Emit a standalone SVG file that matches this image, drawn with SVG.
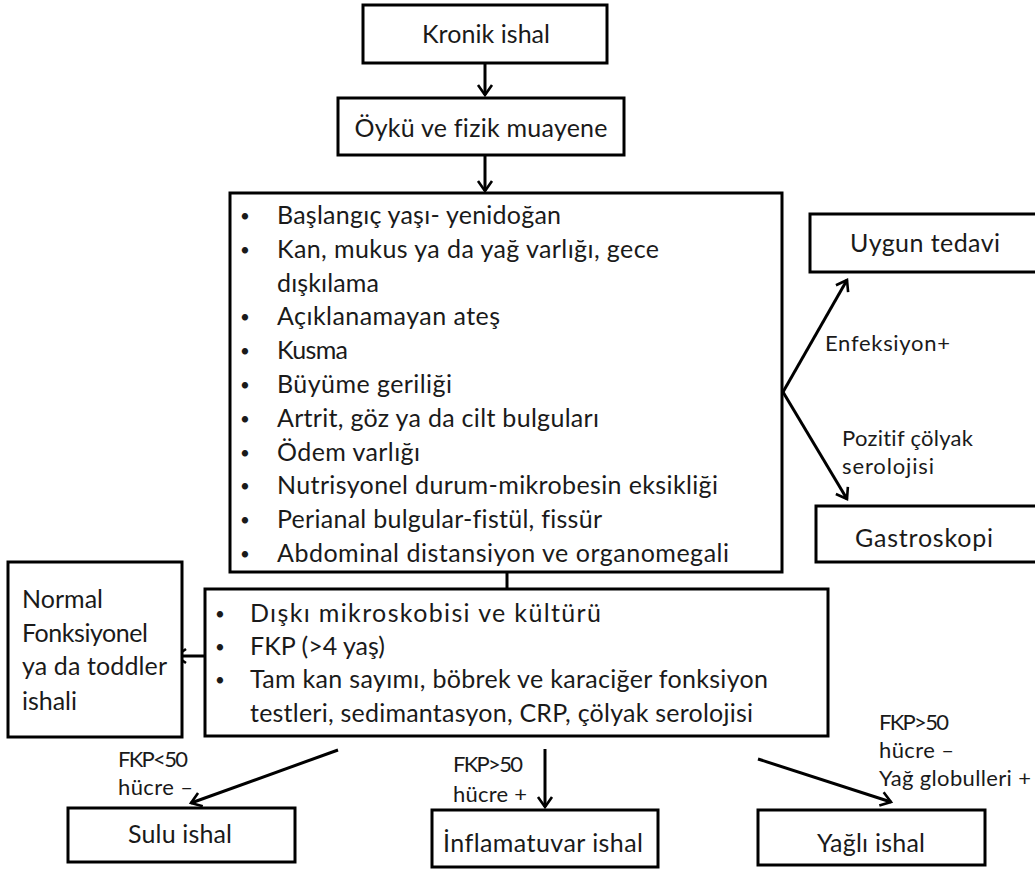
<svg xmlns="http://www.w3.org/2000/svg" width="1035" height="871" viewBox="0 0 1035 871">
<style>
  .box { fill: #ffffff; stroke: #000000; stroke-width: 3; }
  .t { font-family: Lato, "Open Sans", "Liberation Sans", sans-serif; font-size: 25px; fill: #1a1a1a; font-variant-ligatures: none; }
  .c { text-anchor: middle; }
  .b { font-family: Lato, "Open Sans", "Liberation Sans", sans-serif; font-size: 17px; fill: #1a1a1a; text-anchor: middle; }
  .lbl { font-family: Lato, "Open Sans", "Liberation Sans", sans-serif; font-size: 22px; fill: #1a1a1a; font-variant-ligatures: none; }
  .conn { stroke: #000000; stroke-width: 3; fill: none; }
</style>
<defs>
  <marker id="arr" viewBox="0 0 12 16" refX="11" refY="8" markerWidth="12" markerHeight="16" markerUnits="userSpaceOnUse" orient="auto" overflow="visible">
    <path d="M1,1 L11,8 L1,15" fill="none" stroke="#000000" stroke-width="2.6"/>
  </marker>
</defs>
<rect width="1035" height="871" fill="#ffffff"/>

<g id="connectors">
  <line class="conn" x1="485" y1="63" x2="485" y2="95" marker-end="url(#arr)"/>
  <line class="conn" x1="485" y1="155" x2="485" y2="191" marker-end="url(#arr)"/>
  <line class="conn" x1="783" y1="392" x2="847" y2="280" marker-end="url(#arr)"/>
  <line class="conn" x1="783" y1="392" x2="847" y2="499" marker-end="url(#arr)"/>
  <line class="conn" x1="507" y1="572" x2="507" y2="589"/>
  <line class="conn" x1="213" y1="656" x2="176" y2="656" marker-end="url(#arr)"/>
  <line class="conn" x1="338" y1="750" x2="191" y2="803" marker-end="url(#arr)"/>
  <line class="conn" x1="545" y1="749" x2="545" y2="807" marker-end="url(#arr)"/>
  <line class="conn" x1="758" y1="759" x2="891" y2="802" marker-end="url(#arr)"/>
  <text class="lbl" x="825" y="351" textLength="125">Enfeksiyon+</text>
  <text class="lbl" x="842" y="446" textLength="131">Pozitif çölyak</text>
  <text class="lbl" x="842" y="474" textLength="92">serolojisi</text>
  <text class="lbl" x="118" y="767" textLength="70">FKP&lt;50</text>
  <text class="lbl" x="118" y="795" textLength="75">hücre –</text>
  <text class="lbl" x="453" y="772" textLength="70">FKP&gt;50</text>
  <text class="lbl" x="453" y="802" textLength="74">hücre +</text>
  <text class="lbl" x="879" y="730" textLength="70">FKP&gt;50</text>
  <text class="lbl" x="879" y="758" textLength="75">hücre –</text>
  <text class="lbl" x="879" y="786" textLength="152">Yağ globulleri +</text>
</g>

<g id="kronik">
  <rect class="box" x="363" y="5" width="244" height="58"/>
  <text class="t c" x="486" y="43" textLength="128">Kronik ishal</text>
</g>

<g id="oyku">
  <rect class="box" x="338" y="98" width="286" height="57"/>
  <text class="t c" x="481" y="137" textLength="253">Öykü ve fizik muayene</text>
</g>

<g id="bulgular">
  <rect class="box" x="230" y="193" width="552" height="379"/>
  <g class="b">
    <text x="245" y="222">•</text>
    <text x="245" y="256">•</text>
    <text x="245" y="323">•</text>
    <text x="245" y="357">•</text>
    <text x="245" y="391">•</text>
    <text x="245" y="425">•</text>
    <text x="245" y="459">•</text>
    <text x="245" y="492">•</text>
    <text x="245" y="526">•</text>
    <text x="245" y="560">•</text>
  </g>
  <text class="t" x="277" y="224" textLength="284">Başlangıç yaşı- yenidoğan</text>
  <text class="t" x="277" y="258" textLength="382">Kan, mukus ya da yağ varlığı, gece</text>
  <text class="t" x="277" y="292" textLength="102">dışkılama</text>
  <text class="t" x="277" y="325" textLength="223">Açıklanamayan ateş</text>
  <text class="t" x="277" y="359" textLength="71">Kusma</text>
  <text class="t" x="277" y="393" textLength="175">Büyüme geriliği</text>
  <text class="t" x="277" y="427" textLength="322">Artrit, göz ya da cilt bulguları</text>
  <text class="t" x="277" y="461" textLength="143">Ödem varlığı</text>
  <text class="t" x="277" y="494" textLength="441">Nutrisyonel  durum-mikrobesin  eksikliği</text>
  <text class="t" x="277" y="528" textLength="325">Perianal bulgular-fistül,  fissür</text>
  <text class="t" x="277" y="562" textLength="452">Abdominal  distansiyon  ve organomegali</text>
</g>

<g id="uygun-tedavi">
  <rect class="box" x="810" y="214" width="235" height="58"/>
  <text class="t c" x="925" y="252" textLength="150">Uygun tedavi</text>
</g>

<g id="gastroskopi">
  <rect class="box" x="816" y="506" width="229" height="56"/>
  <text class="t c" x="924" y="547" textLength="138">Gastroskopi</text>
</g>

<g id="testler">
  <rect class="box" x="205" y="589" width="623" height="147"/>
  <g class="b">
    <text x="220" y="620">•</text>
    <text x="220" y="653">•</text>
    <text x="220" y="686">•</text>
  </g>
  <text class="t" x="250" y="622" textLength="351">Dışkı mikroskobisi  ve kültürü</text>
  <text class="t" x="250" y="655" textLength="135">FKP (&gt;4 yaş)</text>
  <text class="t" x="250" y="688" textLength="518">Tam kan sayımı, böbrek ve karaciğer fonksiyon</text>
  <text class="t" x="250" y="722" textLength="503">testleri, sedimantasyon, CRP, çölyak serolojisi</text>
</g>

<g id="normal">
  <rect class="box" x="8" y="562" width="174" height="175"/>
  <text class="t" x="22" y="608" textLength="81">Normal</text>
  <text class="t" x="22" y="642" textLength="126">Fonksiyonel</text>
  <text class="t" x="22" y="675" textLength="145">ya da toddler</text>
  <text class="t" x="22" y="710" textLength="55">ishali</text>
</g>

<g id="sulu">
  <rect class="box" x="68" y="808" width="227" height="54"/>
  <text class="t c" x="180" y="843" textLength="104">Sulu  ishal</text>
</g>

<g id="inflamatuvar">
  <rect class="box" x="432" y="810" width="226" height="57"/>
  <text class="t c" x="543" y="852" textLength="200">İnflamatuvar ishal</text>
</g>

<g id="yagli">
  <rect class="box" x="758" y="810" width="227" height="55"/>
  <text class="t c" x="871" y="852" textLength="108">Yağlı ishal</text>
</g>
</svg>
